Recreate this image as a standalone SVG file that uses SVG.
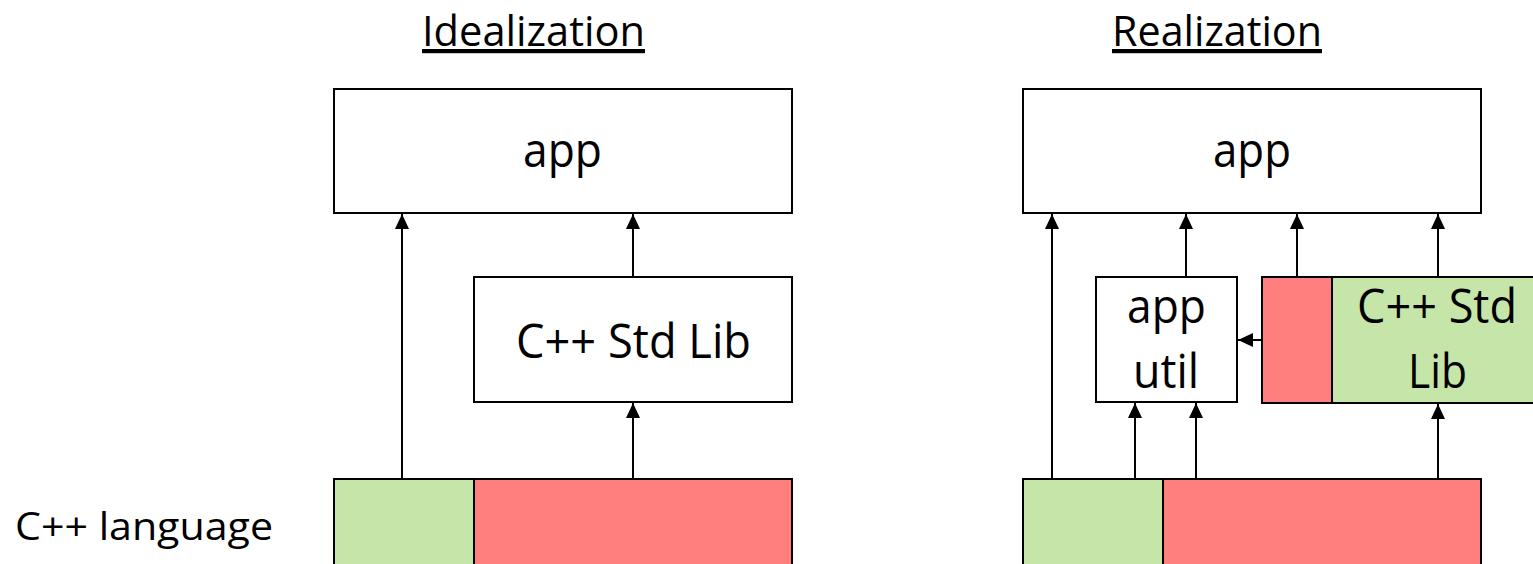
<svg xmlns="http://www.w3.org/2000/svg" width="1533" height="564" viewBox="0 0 1533 564">
<style>
.box{fill:#ffffff;stroke:#000000;stroke-width:2}
.green{fill:#C6E5A8;stroke:#000000;stroke-width:2}
.red{fill:#FF7F7F;stroke:#000000;stroke-width:2}
.t{font-family:"Open Sans","Liberation Sans",sans-serif;fill:#000000}
.node{font-size:47px}
.title{font-size:42px;text-decoration:underline}
.lang{font-size:38px}
.conn{stroke:#000000;stroke-width:2;fill:none;marker-end:url(#arr)}
</style>
<defs>
<marker id="arr" markerUnits="userSpaceOnUse" markerWidth="16" markerHeight="14" refX="15" refY="7" orient="auto">
<path d="M0,0 L15,7 L0,14 z" fill="#000000"/>
</marker>
</defs>
<rect width="1533" height="564" fill="#ffffff"/>
<g id="titles">
<text class="t title" x="422" y="46" textLength="223" lengthAdjust="spacingAndGlyphs">Idealization</text>
<text class="t title" x="1112" y="46" textLength="210" lengthAdjust="spacingAndGlyphs">Realization</text>
</g>
<g id="label-cpp-language">
<text class="t lang" x="15" y="540" textLength="258" lengthAdjust="spacingAndGlyphs">C++ language</text>
</g>
<g id="ideal-app">
<rect class="box" x="334" y="89" width="458" height="124"/>
<text class="t node" x="523" y="167" textLength="79" lengthAdjust="spacingAndGlyphs">app</text>
</g>
<g id="ideal-stdlib">
<rect class="box" x="474" y="277" width="318" height="125"/>
<text class="t node" x="516" y="358" textLength="235" lengthAdjust="spacingAndGlyphs">C++ Std Lib</text>
</g>
<g id="ideal-lang-green">
<rect class="green" x="334" y="479" width="140" height="120"/>
</g>
<g id="ideal-lang-red">
<rect class="red" x="474" y="479" width="318" height="120"/>
</g>
<g id="real-app">
<rect class="box" x="1023" y="89" width="458" height="124"/>
<text class="t node" x="1213" y="167" textLength="78" lengthAdjust="spacingAndGlyphs">app</text>
</g>
<g id="real-apputil">
<rect class="box" x="1096" y="277" width="141" height="125"/>
<text class="t node" x="1127" y="323" textLength="79" lengthAdjust="spacingAndGlyphs">app</text>
<text class="t node" x="1133" y="388" textLength="66" lengthAdjust="spacingAndGlyphs">util</text>
</g>
<g id="real-stdlib-red">
<rect class="red" x="1262" y="277" width="70" height="126"/>
</g>
<g id="real-stdlib-green">
<rect class="green" x="1332" y="277" width="240" height="126"/>
<text class="t node" x="1357" y="323" textLength="160" lengthAdjust="spacingAndGlyphs">C++ Std</text>
<text class="t node" x="1408" y="388" textLength="59" lengthAdjust="spacingAndGlyphs">Lib</text>
</g>
<g id="real-lang-green">
<rect class="green" x="1023" y="479" width="140" height="120"/>
</g>
<g id="real-lang-red">
<rect class="red" x="1163" y="479" width="318" height="120"/>
</g>
<g id="connectors">
<line class="conn" x1="402" y1="478" x2="402" y2="214"/>
<line class="conn" x1="633" y1="276" x2="633" y2="214"/>
<line class="conn" x1="633" y1="478" x2="633" y2="403"/>
<line class="conn" x1="1052" y1="478" x2="1052" y2="214"/>
<line class="conn" x1="1186" y1="276" x2="1186" y2="214"/>
<line class="conn" x1="1297" y1="276" x2="1297" y2="214"/>
<line class="conn" x1="1438" y1="276" x2="1438" y2="214"/>
<line class="conn" x1="1135" y1="478" x2="1135" y2="403"/>
<line class="conn" x1="1196" y1="478" x2="1196" y2="403"/>
<line class="conn" x1="1438" y1="478" x2="1438" y2="404"/>
<line class="conn" x1="1261" y1="340" x2="1238" y2="340"/>
</g>
</svg>
